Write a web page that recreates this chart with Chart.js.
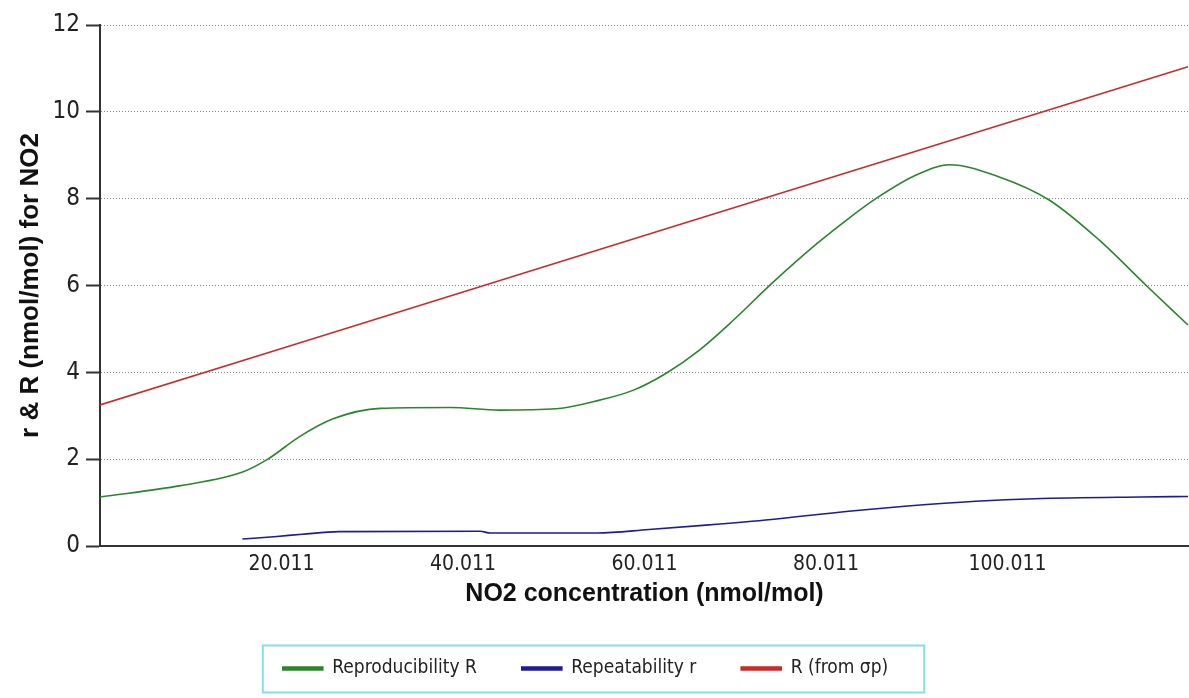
<!DOCTYPE html>
<html>
<head>
<meta charset="utf-8">
<script src="https://cdn.jsdelivr.net/npm/chart.js@4.4.0/dist/chart.umd.min.js"></script>
<style>
  html, body { margin: 0; padding: 0; background: #ffffff; }
  #c { display: block; }
</style>
</head>
<body>
<canvas id="c" width="1189" height="698"></canvas>
<script>
// ---- Data ----
const seriesNames = ['Reproducibility R', 'Repeatability r', 'R (from \u03c3p)'];

const reproX = [0.011, 8.9, 15.8, 18.5, 22, 25.7, 30.9, 38.6, 44, 50.3, 55.1, 58.8, 62.4, 66.1, 69.8, 74.1, 79.1, 82.6, 85.5, 90, 93.6, 99.1, 104.6, 110.1, 115.3, 119.9];
const reproY = [1.13, 1.39, 1.71, 2.0, 2.52, 2.93, 3.17, 3.19, 3.13, 3.16, 3.36, 3.59, 3.98, 4.52, 5.2, 6.06, 6.98, 7.56, 8.0, 8.55, 8.78, 8.5, 7.97, 7.05, 6.0, 5.09];

const repeatX = [15.7, 19.5, 22.3, 26.3, 41.9, 43, 54.8, 60.5, 66.8, 74, 82.5, 89, 96.5, 103, 114.7, 119.9];
const repeatY = [0.16, 0.22, 0.27, 0.33, 0.34, 0.30, 0.30, 0.38, 0.48, 0.61, 0.80, 0.92, 1.03, 1.09, 1.13, 1.14];

const sigmaX = [0.011, 60, 119.9];
const sigmaY = [3.25, 7.15, 11.04];

const xTickValues = [20.011, 40.011, 60.011, 80.011, 100.011];
const xMin = 0.011, xMax = 120.011;
const yMin = 0, yMax = 12, yStep = 2;

const xTitle = 'NO2 concentration (nmol/mol)';
const yTitle = 'r & R (nmol/mol) for NO2';

// ---- Styling ----
const colors = ['#2a862a', '#1c1c96', '#cc2a2a'];
const narrow = "'Liberation Sans Narrow', 'Arial Narrow', 'DejaVu Sans Condensed', sans-serif";
const boldFamily = "'Liberation Sans', Arial, sans-serif";

function pts(xs, ys) { return xs.map((x, i) => ({ x: x, y: ys[i] })); }

const datasets = [
  { label: seriesNames[0], data: pts(reproX, reproY) },
  { label: seriesNames[1], data: pts(repeatX, repeatY) },
  { label: seriesNames[2], data: pts(sigmaX, sigmaY) }
].map((d, i) => Object.assign(d, {
  borderColor: colors[i],
  backgroundColor: colors[i],
  borderWidth: 1.6,
  pointRadius: 0,
  cubicInterpolationMode: 'monotone',
  fill: false
}));

const legendBoxPlugin = {
  id: 'legendBox',
  afterLayout(chart) {
    const lg = chart.legend;
    if (lg) { lg.left -= 9; lg.right -= 9; }
  },
  afterDraw(chart) {
    const lg = chart.legend;
    if (!lg || !lg.legendHitBoxes || !lg.legendHitBoxes.length) return;
    const hb = lg.legendHitBoxes;
    const first = hb[0], last = hb[hb.length - 1];
    const cy = first.top + first.height / 2;
    const left = first.left - 20;
    const right = last.left + last.width + 36;
    const ctx = chart.ctx;
    ctx.save();
    ctx.strokeStyle = '#86e0e0';
    ctx.lineWidth = 2;
    ctx.strokeRect(left, cy - 23, right - left, 47);
    ctx.restore();
  }
};

new Chart(document.getElementById('c'), {
  type: 'line',
  data: { datasets: datasets },
  plugins: [legendBoxPlugin],
  options: {
    responsive: false,
    animation: false,
    layout: { padding: { top: 25, right: 0, bottom: 10, left: 0 } },
    plugins: {
      tooltip: { enabled: false },
      legend: {
        position: 'bottom',
        labels: {
          boxWidth: 40,
          boxHeight: 3,
          padding: 45,
          color: '#222',
          font: { family: narrow, size: 19 }
        }
      }
    },
    scales: {
      x: {
        type: 'linear',
        min: xMin,
        max: xMax,
        afterBuildTicks: (scale) => { scale.ticks = xTickValues.map(v => ({ value: v })); },
        afterFit: (scale) => { scale.height = 68; },
        grid: { display: false, drawTicks: false },
        border: { display: true, color: '#333', width: 2 },
        ticks: {
          padding: 6,
          color: '#222',
          maxRotation: 0,
          autoSkip: false,
          font: { family: narrow, size: 21 },
          callback: (v) => Number(v).toFixed(3)
        },
        title: {
          display: true,
          text: xTitle,
          color: '#111',
          padding: { top: 0, bottom: 5 },
          font: { family: boldFamily, size: 25, weight: 'bold' }
        }
      },
      y: {
        min: yMin,
        max: yMax,
        afterFit: (scale) => { scale.width = 100; },
        grid: {
          color: '#8a8a8a',
          lineWidth: 1,
          tickLength: 14,
          tickColor: '#333',
          tickWidth: 2,
          tickBorderDash: []
        },
        border: { display: true, color: '#333', width: 2, dash: [1, 2] },
        ticks: {
          stepSize: yStep,
          padding: 6,
          color: '#222',
          font: { family: narrow, size: 24 }
        },
        title: {
          display: true,
          text: yTitle,
          color: '#111',
          padding: { top: 15, bottom: 0 },
          font: { family: boldFamily, size: 26, weight: 'bold' }
        }
      }
    }
  }
});
</script>
</body>
</html>
